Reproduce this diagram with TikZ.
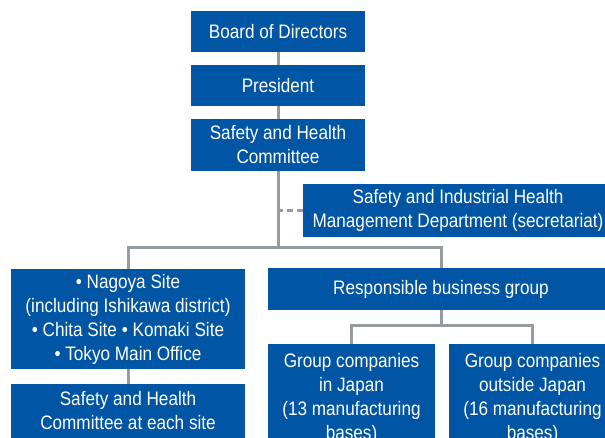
\documentclass[tikz,border=0pt]{standalone}
\usepackage{fontspec}
\setmainfont{Liberation Sans}[FakeStretch=0.88]
\definecolor{boxblue}{RGB}{0,85,165}
\definecolor{linegray}{RGB}{150,155,162}
\begin{document}
\begin{tikzpicture}[x=1pt,y=-1pt,
  bluebox/.style={fill=boxblue,text=white,inner sep=0pt,align=center,
    font=\fontsize{19.5}{24}\selectfont},
  conn/.style={draw=linegray,line width=3pt},
  dashconn/.style={draw=linegray,line width=3pt,dash pattern=on 6pt off 4pt}]
\useasboundingbox (0,0) rectangle (605,438);
\clip (0,0) rectangle (605,438);
\node[bluebox,minimum width=174pt,minimum height=41pt] (board) at (278,31.5) {Board of Directors};
\node[bluebox,minimum width=174pt,minimum height=41pt] (pres) at (278,85.5) {President};
\node[bluebox,minimum width=174pt,minimum height=52pt] (comm) at (278,145) {Safety and Health\\Committee};
\node[bluebox,minimum width=310pt,minimum height=53pt] (secr) at (458,210.5) {Safety and Industrial Health\\Management Department (secretariat)};
\node[bluebox,minimum width=234pt,minimum height=100pt] (sites) at (128,319) {• Nagoya Site\\(including Ishikawa district)\\• Chita Site • Komaki Site\\• Tokyo Main Office};
\node[bluebox,minimum width=346pt,minimum height=42pt] (resp) at (441,289) {Responsible business group};
\node[bluebox,minimum width=234pt,minimum height=54pt] (sitecomm) at (128,411) {Safety and Health\\Committee at each site};
\node[bluebox,minimum width=167pt,minimum height=108pt] (gjp) at (351.5,398) {Group companies\\in Japan\\(13 manufacturing\\bases)};
\node[bluebox,minimum width=167pt,minimum height=108pt] (gout) at (532.5,398) {Group companies\\outside Japan\\(16 manufacturing\\bases)};
\coordinate (jA) at (278,248);
\coordinate (jB) at (441,325);
\draw[conn] (board) -- (pres);
\draw[conn] (pres) -- (comm);
\draw[conn] (comm.south) -- (jA);
\draw[conn] (sites.north) |- (jA) -| (resp.north);
\draw[dashconn] (secr.west) -- (secr.west -| comm.south);
\draw[conn] (sites) -- (sitecomm);
\draw[conn] (resp.south) -- (jB);
\draw[conn] (gjp.north) |- (jB) -| (gout.north);
\end{tikzpicture}
\end{document}
